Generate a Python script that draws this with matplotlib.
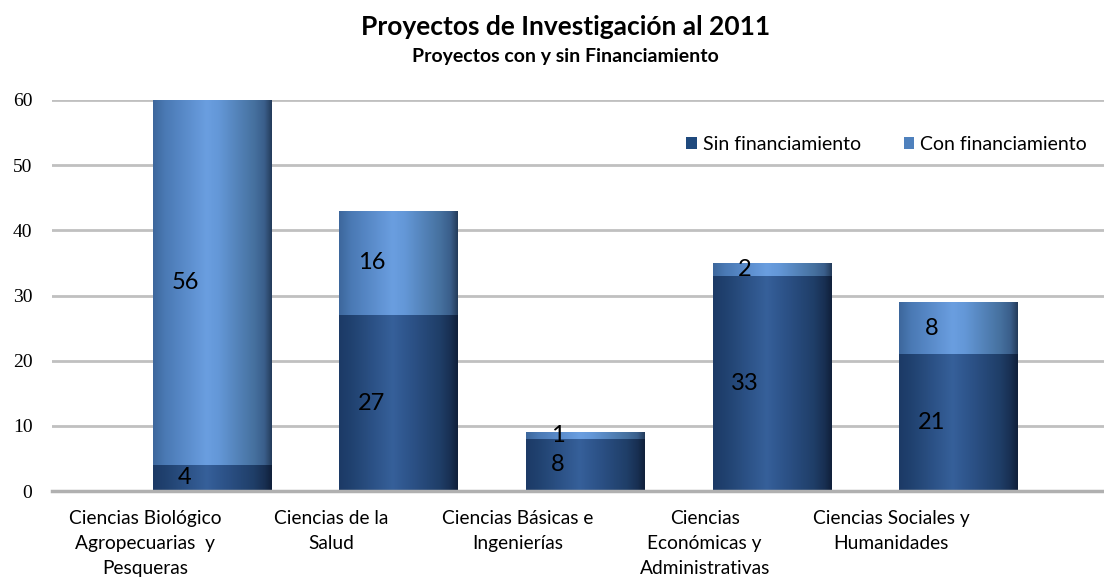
import numpy as np
import matplotlib
matplotlib.use('Agg')
import matplotlib.pyplot as plt
from matplotlib.colors import LinearSegmentedColormap
from matplotlib.patches import Patch
import matplotlib.transforms as mtransforms

categorias = ['Ciencias Biológico\nAgropecuarias  y\nPesqueras',
              'Ciencias de la\nSalud',
              'Ciencias Básicas e\nIngenierías',
              'Ciencias\nEconómicas y\nAdministrativas',
              'Ciencias Sociales y\nHumanidades']
sin_financiamiento = [4, 27, 8, 33, 21]
con_financiamiento = [56, 16, 1, 2, 8]
y_ticks = [0, 10, 20, 30, 40, 50, 60]

FONT = 'Lato'
oscuro = '#1f497d'
claro = '#4f81bd'

cmap_oscuro = LinearSegmentedColormap.from_list('osc', [
    (0.0, '#1c3a66'), (0.1, '#20416f'), (0.45, '#36609a'), (0.6, '#2d5389'),
    (0.85, '#1f3e68'), (0.94, '#182f52'), (1.0, '#10203a')])
cmap_claro = LinearSegmentedColormap.from_list('cla', [
    (0.0, '#3d679c'), (0.1, '#4a79b4'), (0.45, '#6a9ee0'), (0.55, '#6498d8'),
    (0.85, '#46719f'), (0.94, '#3a5e8a'), (1.0, '#243b5a')])

fig = plt.figure(figsize=(11.04, 5.80), dpi=100)
ax = fig.add_axes([0.047, 0.1534, 0.953, 0.6742])

x = np.arange(len(categorias))
ancho = 0.635
b1 = ax.bar(x, sin_financiamiento, ancho, color='none', edgecolor='none', zorder=2)
b2 = ax.bar(x, con_financiamiento, ancho, bottom=sin_financiamiento,
            color='none', edgecolor='none', zorder=2)

fila = np.linspace(0, 1, 256).reshape(1, -1)
for barras, cmap in ((b1, cmap_oscuro), (b2, cmap_claro)):
    for p in barras:
        x0, y0 = p.get_x(), p.get_y()
        w, h = p.get_width(), p.get_height()
        im = ax.imshow(fila, extent=(x0, x0 + w, y0, y0 + h), aspect='auto',
                       cmap=cmap, zorder=2, interpolation='bilinear')
        im.set_clip_path(p)

# etiquetas de datos
desplaz = -0.145
for i in range(len(categorias)):
    s = sin_financiamiento[i]
    c = con_financiamiento[i]
    ax.text(x[i] + desplaz, s / 2, str(s), ha='center', va='center',
            fontsize=17, family=FONT, zorder=4)
    ax.text(x[i] + desplaz, s + c / 2, str(c), ha='center', va='center',
            fontsize=17, family=FONT, zorder=4)

ax.set_xlim(-0.858, 4.78)
ax.set_ylim(0, 60)
ax.set_yticks(y_ticks)
ax.set_yticklabels([str(t) for t in y_ticks], family='Liberation Serif', fontsize=14)
ax.tick_params(axis='y', length=0, pad=14)
ax.set_xticks([])
ax.yaxis.grid(True, color='#c0c0c0', linewidth=2, zorder=0)
ax.set_axisbelow(True)
for lado in ['left', 'right', 'top']:
    ax.spines[lado].set_visible(False)
ax.spines['bottom'].set_color('#b0b0b0')
ax.spines['bottom'].set_linewidth(2.5)

trans = mtransforms.blended_transform_factory(ax.transData, ax.transAxes)
off = mtransforms.offset_copy(trans, fig=fig, x=0, y=-14, units='points')
for i, cat in enumerate(categorias):
    ax.text(x[i] - 0.36, 0, cat, transform=off, ha='center', va='top',
            fontsize=13.8, family=FONT, linespacing=1.55)

fig.text(0.512, 0.953, 'Proyectos de Investigación al 2011', ha='center', va='center',
         fontsize=19, fontweight='bold', family=FONT)
fig.text(0.512, 0.903, 'Proyectos con y sin Financiamiento', ha='center', va='center',
         fontsize=14, fontweight='bold', family=FONT)

handles = [Patch(facecolor=oscuro, label='Sin financiamiento'),
           Patch(facecolor=claro, label='Con financiamiento')]
ax.legend(handles=handles, ncol=2, frameon=False, loc='center right',
          bbox_to_anchor=(0.995, 0.887), prop={'family': FONT, 'size': 14},
          handlelength=0.55, handleheight=0.55, handletextpad=0.3,
          columnspacing=2.2, borderaxespad=0.2)

fig.savefig('out.png', dpi=100)
